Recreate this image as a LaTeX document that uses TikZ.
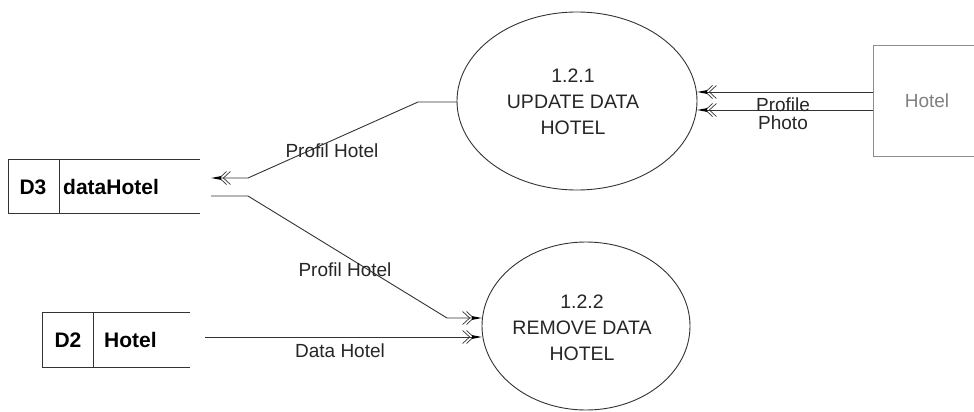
\documentclass[tikz,border=0pt]{standalone}
\usepackage{fontspec}
\setmainfont{Liberation Sans}
\usetikzlibrary{arrows.meta}
\begin{document}
\begin{tikzpicture}[x=1pt,y=-1pt,
  line/.style={draw=black!80, line width=0.9pt},
  flow/.style={line, -{Straight Barb[length=7pt,width=13pt,line width=0.7pt,sep=-4pt]Straight Barb[length=7pt,width=13pt,line width=0.7pt,sep=-2pt]Triangle[length=10pt,width=3.5pt,black]}},
  lbl/.style={font=\fontsize{19}{18}\selectfont, text=black!85, inner sep=0pt, align=center},
  stxt/.style={font=\fontsize{21}{24}\selectfont\bfseries, inner sep=0pt}
]
\useasboundingbox (0,0) rectangle (974,412);
\fill[white] (0,0) rectangle (974,412);

% processes
\draw[line] (577,101) ellipse [x radius=120, y radius=89];
\node[lbl, font=\fontsize{19.5}{26}\selectfont] (p1) at (573,102) {1.2.1\\UPDATE DATA\\HOTEL};
\coordinate (p1w) at (457,102);
\coordinate (p1e1) at (697,92);
\coordinate (p1e2) at (697,110);

\draw[line] (586,326) ellipse [x radius=104, y radius=84];
\node[lbl, font=\fontsize{19.5}{26}\selectfont] (p2) at (582,328) {1.2.2\\REMOVE DATA\\HOTEL};
\coordinate (p2w1) at (482,318);
\coordinate (p2w2) at (482,337);

% external entity Hotel
\draw[line, draw=black!45] (990,45) -- (873,45) -- (873,156) -- (990,156);
\node[lbl, text=black!50] (hotel) at (927,101) {Hotel};
\coordinate (h1) at (873,92);
\coordinate (h2) at (873,110);

% data stores
\draw[line] (200,159) -- (8,159) -- (8,213) -- (200,213);
\draw[line] (59,159) -- (59,213);
\node[stxt] (d3id) at (33,187) {D3};
\node[stxt, anchor=west] (d3) at (63,187) {dataHotel};
\coordinate (d3in) at (211,178);
\coordinate (d3out) at (211,196);

\draw[line] (190,312) -- (42,312) -- (42,367) -- (190,367);
\draw[line] (93,312) -- (93,367);
\node[stxt] (d2id) at (68,340) {D2};
\node[stxt, anchor=west] (d2) at (104,340) {Hotel};
\coordinate (d2out) at (205,337);

% flows
\draw[flow] (h1) -- (p1e1);
\draw[flow] (h2) -- (p1e2);
\node[lbl] (lprof) at (783,105) {Profile};
\node[lbl] (lphoto) at (783,123) {Photo};

\draw[flow] (p1w) -- (418,102) -- (248,178) -- (d3in);
\node[lbl] (l1) at (332,151) {Profil Hotel};

\draw[flow] (d3out) -- (248,196) -- (447,318) -- (p2w1);
\node[lbl] (l2) at (345,270) {Profil Hotel};

\draw[flow] (d2out) -- (p2w2);
\node[lbl] (l3) at (340,351) {Data Hotel};
\end{tikzpicture}
\end{document}
